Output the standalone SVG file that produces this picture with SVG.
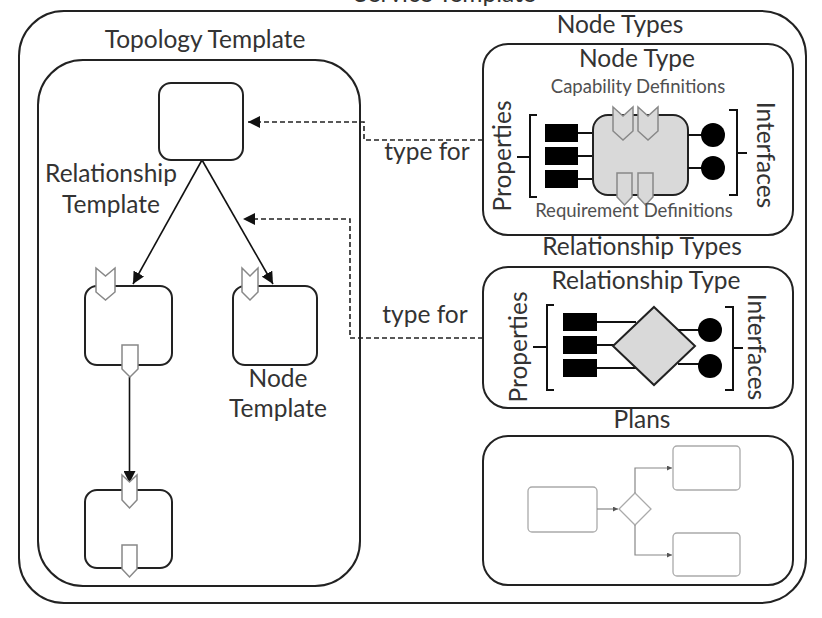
<svg xmlns="http://www.w3.org/2000/svg" width="822" height="618" viewBox="0 0 822 618">
<defs>
<style>
text{font-family:Lato,"Open Sans","Liberation Sans",sans-serif;fill:#333}
.t20{font-size:24.5px}
.t14{font-size:18.5px;fill:#505050}
.frame{fill:none;stroke:#222;stroke-width:2}
.box{fill:#fff;stroke:#222;stroke-width:2}
.cap{fill:#fff;stroke:#888;stroke-width:1.5}
.gcap{fill:#d9d9d9;stroke:#888;stroke-width:1.5}
.blk{fill:#000}
.ln{stroke:#111;stroke-width:2;fill:none}
.arr{stroke:#111;stroke-width:1.6;fill:none}
.dash{stroke:#222;stroke-width:1.6;fill:none;stroke-dasharray:5 3}
.pl{fill:#fff;stroke:#aaa;stroke-width:1.3}
.pln{stroke:#888;stroke-width:1.2;fill:none}
</style>
<marker id="ah" viewBox="0 0 10 10" refX="10" refY="5" markerWidth="12" markerHeight="12" markerUnits="userSpaceOnUse" orient="auto"><path d="M0,0L10,5L0,10z" fill="#111"/></marker>
<marker id="ahs" viewBox="0 0 10 10" refX="10" refY="5" markerWidth="5" markerHeight="5" markerUnits="userSpaceOnUse" orient="auto"><path d="M0,0L10,5L0,10z" fill="#555"/></marker>
</defs>
<rect width="822" height="618" fill="#fff"/>

<g id="service-template">
<rect class="frame" x="19" y="11" width="787" height="592" rx="45"/>
<text class="t20" x="445" y="2" text-anchor="middle">Service Template</text>
</g>

<g id="topology-template">
<rect class="frame" x="38" y="60" width="322" height="526" rx="45"/>
<text class="t20" x="205" y="48" text-anchor="middle">Topology Template</text>
</g>

<g id="connectors">
<line class="arr" x1="202" y1="160" x2="133" y2="284" marker-end="url(#ah)"/>
<line class="arr" x1="202" y1="160" x2="273" y2="284" marker-end="url(#ah)"/>
<line class="arr" x1="129.5" y1="377" x2="129.5" y2="483" marker-end="url(#ah)"/>
<path class="dash" d="M483,140H364V122H248" marker-end="url(#ah)"/>
<path class="dash" d="M483,338H350V219H243" marker-end="url(#ah)"/>
<text class="t20" x="427" y="160" text-anchor="middle">type for</text>
<text class="t20" x="425" y="323" text-anchor="middle">type for</text>
<text class="t20" x="111" y="182" text-anchor="middle">Relationship</text>
<text class="t20" x="111" y="213" text-anchor="middle">Template</text>
</g>

<g id="node-top">
<rect class="box" x="159" y="83" width="84" height="77" rx="12"/>
</g>

<g id="node-left">
<rect class="box" x="85" y="286" width="87" height="79" rx="12"/>
<polygon class="cap" points="96,268 105.5,276 115,268 115,292 105.5,300 96,292"/>
<polygon class="cap" points="122,345 138,345 138,369 130,377 122,369"/>
</g>

<g id="node-right">
<rect class="box" x="233" y="286" width="84" height="79" rx="12"/>
<polygon class="cap" points="242,268 250,276 258,268 258,292 250,300 242,292"/>
<text class="t20" x="278" y="387" text-anchor="middle">Node</text>
<text class="t20" x="278" y="417" text-anchor="middle">Template</text>
</g>

<g id="node-bottom">
<rect class="box" x="85" y="490" width="87" height="78" rx="12"/>
<polygon class="cap" points="122,475 129.5,482 137,475 137,500 129.5,508 122,500"/>
<polygon class="cap" points="122,545 137,545 137,569 129.5,577 122,569"/>
</g>

<g id="node-types">
<text class="t20" x="620" y="33" text-anchor="middle">Node Types</text>
<rect class="frame" x="483" y="44" width="310" height="191" rx="25"/>
<text class="t20" x="637" y="67" text-anchor="middle">Node Type</text>
<text class="t14" x="638" y="93" text-anchor="middle">Capability Definitions</text>
<path class="ln" d="M537,115H530V197H537M530,157H517"/>
<text class="t20" transform="translate(511,156) rotate(-90)" text-anchor="middle">Properties</text>
<line class="ln" x1="578" y1="133" x2="593" y2="133"/>
<line class="ln" x1="578" y1="156" x2="593" y2="156"/>
<line class="ln" x1="578" y1="179" x2="593" y2="179"/>
<rect class="blk" x="545" y="124" width="33" height="18"/>
<rect class="blk" x="545" y="147" width="33" height="18"/>
<rect class="blk" x="545" y="170" width="33" height="18"/>
<rect x="593" y="115" width="95" height="80" rx="15" fill="#d9d9d9" stroke="#222" stroke-width="2"/>
<polygon class="gcap" points="613,107 623,116 633,107 633,131 623,140 613,131"/>
<polygon class="gcap" points="638,107 648,116 658,107 658,131 648,140 638,131"/>
<polygon class="gcap" points="617,173 632,173 632,197 624.5,205 617,197"/>
<polygon class="gcap" points="638,173 653,173 653,197 645.5,205 638,197"/>
<line class="ln" x1="688" y1="135" x2="705" y2="135"/>
<line class="ln" x1="688" y1="168" x2="705" y2="168"/>
<circle class="blk" cx="713" cy="135" r="12"/>
<circle class="blk" cx="713" cy="168" r="12"/>
<path class="ln" d="M729,110H737V195H729M737,153H747"/>
<text class="t20" transform="translate(757,155) rotate(90)" text-anchor="middle">Interfaces</text>
<text class="t14" x="634" y="217" text-anchor="middle">Requirement Definitions</text>
</g>

<g id="relationship-types">
<text class="t20" x="642" y="255" text-anchor="middle">Relationship Types</text>
<rect class="frame" x="483" y="267" width="310" height="141" rx="25"/>
<text class="t20" x="646" y="289" text-anchor="middle">Relationship Type</text>
<path class="ln" d="M554,305H547V390H554M547,347H533"/>
<text class="t20" transform="translate(527,347) rotate(-90)" text-anchor="middle">Properties</text>
<line class="ln" x1="597" y1="322" x2="636" y2="322"/>
<line class="ln" x1="597" y1="345" x2="614" y2="345"/>
<line class="ln" x1="597" y1="368" x2="636" y2="368"/>
<rect class="blk" x="563" y="313" width="34" height="18"/>
<rect class="blk" x="563" y="336" width="34" height="18"/>
<rect class="blk" x="563" y="359" width="34" height="18"/>
<polygon points="654,307 695,346 654,385 613,346" fill="#d9d9d9" stroke="#222" stroke-width="2"/>
<line class="ln" x1="678" y1="330" x2="702" y2="330"/>
<line class="ln" x1="678" y1="364" x2="702" y2="364"/>
<circle class="blk" cx="710" cy="330" r="12"/>
<circle class="blk" cx="710" cy="366" r="12"/>
<path class="ln" d="M725,307H733V390H725M733,348H743"/>
<text class="t20" transform="translate(748,347) rotate(90)" text-anchor="middle">Interfaces</text>
</g>

<g id="plans">
<text class="t20" x="642" y="428" text-anchor="middle">Plans</text>
<rect class="frame" x="483" y="436" width="310" height="149" rx="25"/>
<rect class="pl" x="528" y="487" width="69" height="45" rx="4"/>
<polygon class="pl" points="635,493 651,509 635,525 619,509"/>
<rect class="pl" x="673" y="446" width="67" height="44" rx="4"/>
<rect class="pl" x="673" y="533" width="67" height="43" rx="4"/>
<path class="pln" d="M597,509H618" marker-end="url(#ahs)"/>
<path class="pln" d="M635,493V468H672" marker-end="url(#ahs)"/>
<path class="pln" d="M635,525V555H672" marker-end="url(#ahs)"/>
</g>
</svg>
